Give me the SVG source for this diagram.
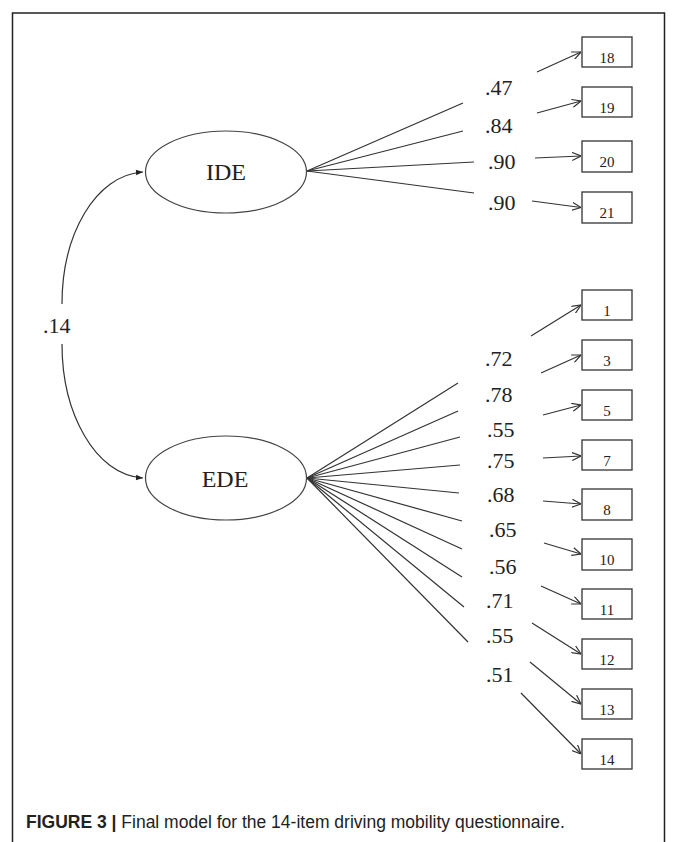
<svg xmlns="http://www.w3.org/2000/svg" width="675" height="842" viewBox="0 0 675 842">
<style>
  .ln{stroke:#333;stroke-width:1.2;fill:none}
  .ar{stroke:#333;stroke-width:1.2;fill:none;marker-end:url(#open)}
  .box{fill:#fff;stroke:#333;stroke-width:1.3}
  .ell{fill:#fff;stroke:#444;stroke-width:1.2}
  .num{font-family:"Liberation Serif","Times New Roman",serif;font-size:22px;fill:#222}
  .item{font-family:"Liberation Serif","Times New Roman",serif;font-size:15px;fill:#222;text-anchor:middle}
  .lat{font-family:"Liberation Serif","Times New Roman",serif;font-size:24px;fill:#222;text-anchor:middle}
  .cap{font-family:"Liberation Sans",Arial,sans-serif;font-size:17.5px;fill:#222}
</style>
<defs>
  <marker id="open" viewBox="0 0 10 10" refX="10" refY="5" markerWidth="9" markerHeight="9" markerUnits="userSpaceOnUse" orient="auto">
    <path d="M0,0.5 L10,5 L0,9.5" fill="none" stroke="#333" stroke-width="1.3"/>
  </marker>
  <marker id="fill" viewBox="0 0 10 10" refX="10" refY="5" markerWidth="8" markerHeight="7" markerUnits="userSpaceOnUse" orient="auto">
    <path d="M0,1 L10,5 L0,9 Z" fill="#222"/>
  </marker>
</defs>
<rect width="675" height="842" fill="#fff"/>
<path d="M12.5,850 V13 H664.5 V850" fill="none" stroke="#222" stroke-width="1.5"/>

<g id="connectors">
  <path class="ln" d="M62,304 C62,235 95,175 143,172" marker-end="url(#fill)"/>
  <path class="ln" d="M62,344 C62,413 95,475 143,478" marker-end="url(#fill)"/>
  <line class="ln" x1="307" y1="171" x2="463" y2="103"/>
  <line class="ln" x1="307" y1="171" x2="463" y2="131"/>
  <line class="ln" x1="307" y1="171" x2="474" y2="162"/>
  <line class="ln" x1="307" y1="171" x2="474" y2="193"/>
  <line class="ar" x1="537" y1="72" x2="581" y2="52"/>
  <line class="ar" x1="537" y1="113" x2="581" y2="101"/>
  <line class="ar" x1="535" y1="158" x2="581" y2="156"/>
  <line class="ar" x1="532" y1="201" x2="581" y2="207.5"/>
  <line class="ln" x1="307" y1="478" x2="458" y2="383"/>
  <line class="ln" x1="307" y1="478" x2="458" y2="411"/>
  <line class="ln" x1="307" y1="478" x2="460" y2="437"/>
  <line class="ln" x1="307" y1="478" x2="460" y2="465"/>
  <line class="ln" x1="307" y1="478" x2="459" y2="493"/>
  <line class="ln" x1="307" y1="478" x2="462" y2="521"/>
  <line class="ln" x1="307" y1="478" x2="462" y2="549"/>
  <line class="ln" x1="307" y1="478" x2="462" y2="577"/>
  <line class="ln" x1="307" y1="478" x2="464" y2="607"/>
  <line class="ln" x1="307" y1="478" x2="468" y2="642"/>
  <line class="ar" x1="531" y1="336" x2="581" y2="305"/>
  <line class="ar" x1="541" y1="373" x2="581" y2="355"/>
  <line class="ar" x1="543" y1="415" x2="581" y2="405"/>
  <line class="ar" x1="543" y1="458" x2="581" y2="456"/>
  <line class="ar" x1="543" y1="501" x2="581" y2="504"/>
  <line class="ar" x1="544" y1="543" x2="581" y2="554"/>
  <line class="ar" x1="541" y1="586" x2="581" y2="604"/>
  <line class="ar" x1="532" y1="623" x2="581" y2="654"/>
  <line class="ar" x1="530" y1="662" x2="581" y2="704"/>
  <line class="ar" x1="521" y1="693" x2="581" y2="754"/>
</g>

<g id="labels">
  <text class="num" x="43" y="333">.14</text>
  <text class="num" x="485" y="95">.47</text>
  <text class="num" x="485" y="133">.84</text>
  <text class="num" x="488" y="169">.90</text>
  <text class="num" x="488" y="210">.90</text>
  <text class="num" x="485" y="366">.72</text>
  <text class="num" x="485" y="402">.78</text>
  <text class="num" x="487" y="437">.55</text>
  <text class="num" x="487" y="468">.75</text>
  <text class="num" x="487" y="502">.68</text>
  <text class="num" x="489" y="537">.65</text>
  <text class="num" x="489" y="574">.56</text>
  <text class="num" x="486" y="608">.71</text>
  <text class="num" x="486" y="643">.55</text>
  <text class="num" x="486" y="682">.51</text>
</g>

<g id="IDE"><ellipse class="ell" cx="226" cy="172" rx="80.5" ry="41"/><text class="lat" x="226" y="180">IDE</text></g>
<g id="EDE"><ellipse class="ell" cx="226" cy="478" rx="80.5" ry="42"/><text class="lat" x="225" y="487">EDE</text></g>

<g id="item18"><rect class="box" x="582" y="37" width="50" height="30"/><text class="item" x="607" y="63">18</text></g>
<g id="item19"><rect class="box" x="582" y="87" width="50" height="30"/><text class="item" x="607" y="113">19</text></g>
<g id="item20"><rect class="box" x="582" y="141" width="50" height="31"/><text class="item" x="607" y="167">20</text></g>
<g id="item21"><rect class="box" x="582" y="192" width="50" height="31"/><text class="item" x="607" y="218">21</text></g>

<g id="item1"><rect class="box" x="582" y="290" width="50" height="30"/><text class="item" x="607" y="316">1</text></g>
<g id="item3"><rect class="box" x="582" y="340" width="50" height="30"/><text class="item" x="607" y="366">3</text></g>
<g id="item5"><rect class="box" x="582" y="390" width="50" height="30"/><text class="item" x="607" y="416">5</text></g>
<g id="item7"><rect class="box" x="582" y="440" width="50" height="30"/><text class="item" x="607" y="466">7</text></g>
<g id="item8"><rect class="box" x="582" y="489" width="50" height="31"/><text class="item" x="607" y="515">8</text></g>
<g id="item10"><rect class="box" x="582" y="539" width="50" height="31"/><text class="item" x="607" y="565">10</text></g>
<g id="item11"><rect class="box" x="582" y="589" width="50" height="30"/><text class="item" x="607" y="615">11</text></g>
<g id="item12"><rect class="box" x="582" y="639" width="50" height="30"/><text class="item" x="607" y="665">12</text></g>
<g id="item13"><rect class="box" x="582" y="689" width="50" height="30"/><text class="item" x="607" y="715">13</text></g>
<g id="item14"><rect class="box" x="582" y="739" width="50" height="30"/><text class="item" x="607" y="765">14</text></g>

<text class="cap" x="26" y="828"><tspan font-weight="bold">FIGURE 3 |</tspan> Final model for the 14-item driving mobility questionnaire.</text>
</svg>
